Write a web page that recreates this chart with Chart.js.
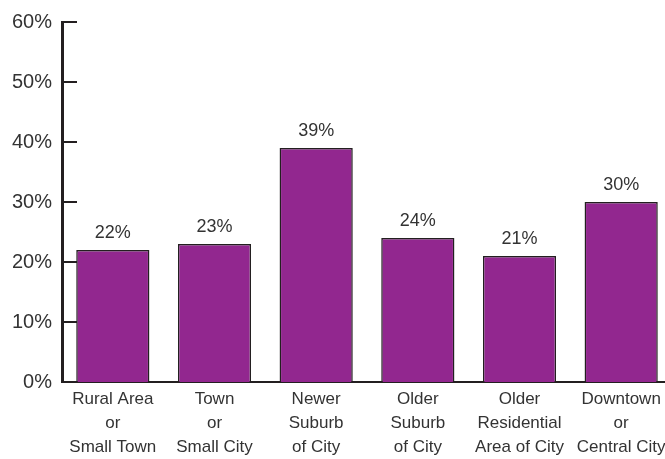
<!DOCTYPE html>
<html>
<head>
<meta charset="utf-8">
<script src="https://cdn.jsdelivr.net/npm/chart.js@4"></script>
<style>
  html, body { margin:0; padding:0; background:#fff; overflow:hidden; }
  #wrap { width:672px; height:459px; }
</style>
</head>
<body>
<div id="wrap"><canvas id="chart" width="672" height="459"></canvas></div>
<script>
// ── data ──────────────────────────────────────────────────────────────
const categories = [
  ['Rural Area', 'or', 'Small Town'],
  ['Town', 'or', 'Small City'],
  ['Newer', 'Suburb', 'of City'],
  ['Older', 'Suburb', 'of City'],
  ['Older', 'Residential', 'Area of City'],
  ['Downtown', 'or', 'Central City']
];
const shares = [22, 23, 39, 24, 21, 30];
const yTicks = [0, 10, 20, 30, 40, 50, 60];

const INK = '#231F20';
const TEXT = '#333333';
const BAR = '#92278F';

// inward tick marks on the y axis
const innerTicks = {
  id: 'innerTicks',
  afterDraw(chart) {
    const { ctx, scales: { y }, chartArea } = chart;
    ctx.save();
    ctx.strokeStyle = INK;
    ctx.lineWidth = 2;
    yTicks.forEach(v => {
      const py = Math.round(y.getPixelForValue(v));
      ctx.beginPath();
      ctx.moveTo(chartArea.left, py);
      ctx.lineTo(chartArea.left + 15, py);
      ctx.stroke();
    });
    ctx.restore();
  }
};

// value labels above bars
const valueLabels = {
  id: 'valueLabels',
  afterDatasetsDraw(chart) {
    const { ctx } = chart;
    const meta = chart.getDatasetMeta(0);
    ctx.save();
    ctx.fillStyle = TEXT;
    ctx.font = '18px "Liberation Sans", Arial, sans-serif';
    ctx.textAlign = 'center';
    ctx.textBaseline = 'bottom';
    meta.data.forEach((bar, i) => {
      ctx.fillText(shares[i] + '%', bar.x, bar.y - 8);
    });
    ctx.restore();
  }
};

new Chart(document.getElementById('chart'), {
  type: 'bar',
  data: {
    labels: categories,
    datasets: [{
      data: shares,
      backgroundColor: BAR,
      borderColor: INK,
      borderWidth: 1.5,
      borderSkipped: 'bottom',
      barPercentage: 0.72,
      categoryPercentage: 1
    }]
  },
  options: {
    responsive: false,
    animation: false,
    layout: { padding: { top: 22, right: 0, left: 0, bottom: 0 } },
    plugins: { legend: { display: false }, tooltip: { enabled: false } },
    scales: {
      x: {
        grid: { display: false, drawTicks: false },
        border: { display: true, color: INK, width: 2 },
        ticks: {
          color: TEXT, padding: 5, maxRotation: 0, autoSkip: false,
          font: { family: '"Liberation Sans", Arial, sans-serif', size: 17, lineHeight: 1.42 }
        },
        afterFit(scale) { scale.height = 77; }
      },
      y: {
        min: 0, max: 60,
        grid: { display: false, drawTicks: false },
        border: { display: true, color: INK, width: 3 },
        ticks: {
          stepSize: 10, color: TEXT, padding: 10,
          font: { family: '"Liberation Sans", Arial, sans-serif', size: 20 },
          callback: v => v + '%'
        },
        afterFit(scale) { scale.width = 62; }
      }
    }
  },
  plugins: [innerTicks, valueLabels]
});
</script>
</body>
</html>
